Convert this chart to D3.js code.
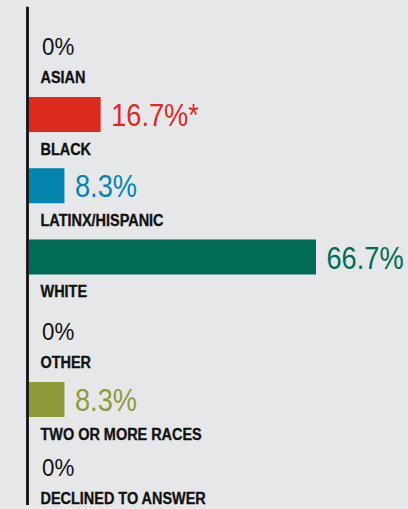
<!DOCTYPE html>
<html><head><meta charset="utf-8">
<script src="https://cdn.jsdelivr.net/npm/d3@7"></script>
<style>
html,body{margin:0;padding:0;background:#e6e7e9;}
svg{display:block;}
</style></head>
<body>
<script>
const categories = ["ASIAN","BLACK","LATINX/HISPANIC","WHITE","OTHER","TWO OR MORE RACES","DECLINED TO ANSWER"];
const values = [0, 16.7, 8.3, 66.7, 0, 8.3, 0];
const valueLabels = ["0%","16.7%*","8.3%","66.7%","0%","8.3%","0%"];
const colors = ["#111111","#dc2a1f","#0385b0","#006b57","#111111","#8f9a3b","#111111"];

const W = 408, H = 509;
const FONT = "'Liberation Sans',Arial,Helvetica,sans-serif";
const svg = d3.select("body").append("svg").attr("width", W).attr("height", H);
svg.append("rect").attr("width", W).attr("height", H).attr("fill", "#e6e7e9");

const x = d3.scaleLinear().domain([0, 66.7]).range([28.7, 316]);
// row centres (last row sits slightly tighter in the original layout)
const yc = d3.scaleLinear().domain([0, 5, 6]).range([43.25, 399.5, 463.8]);
const barH = 35;

const g = svg.append("g");
function txt(px, py, sx, size, weight, fill, s, sw) {
  g.append("text").attr("transform", `translate(${px},${py}) scale(${sx},1)`)
    .attr("font-family", FONT).attr("font-size", size).attr("font-weight", weight)
    .attr("fill", fill).attr("stroke", sw ? fill : "none").attr("stroke-width", sw || 0)
    .text(s);
}
categories.forEach((c, i) => {
  const cy = yc(i);
  const v = values[i];
  if (v > 0) {
    g.append("rect").attr("x", x(0)).attr("y", cy - barH / 2).attr("width", x(v) - x(0)).attr("height", barH).attr("fill", colors[i]);
    txt(x(v) + 10.5, cy + 11.5, 0.85, 32, "normal", colors[i], valueLabels[i]);
  } else {
    txt(42, cy + 11.8, 0.95, 23.5, "normal", colors[i], valueLabels[i]);
  }
  txt(40.5, cy + 40.2, 0.85, 17, "bold", "#111", c, 0.35);
});

svg.append("line").attr("x1", 27.5).attr("x2", 27.5).attr("y1", 6.7).attr("y2", 505)
  .attr("stroke", "#111").attr("stroke-width", 2.8);
</script>
</body></html>
